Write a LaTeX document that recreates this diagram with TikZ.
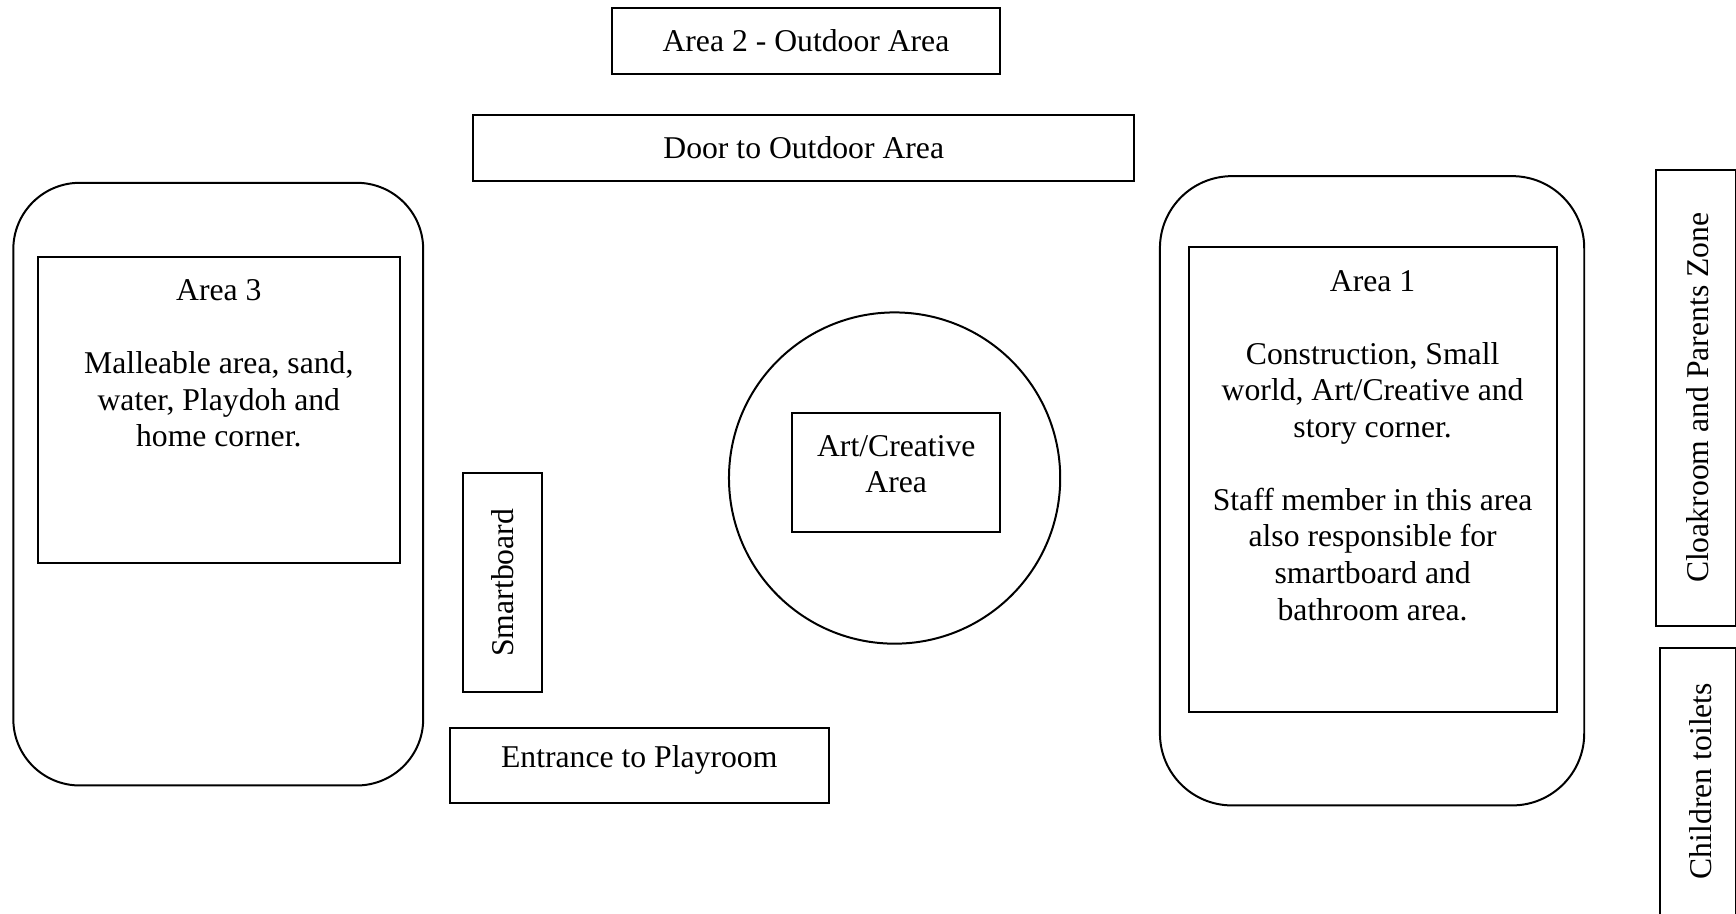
\documentclass[tikz,border=0pt]{standalone}
\usepackage{fontspec}
\setmainfont{Liberation Serif}
\begin{document}
\begin{tikzpicture}[x=0.5pt,y=-0.5pt,
  box/.style={draw,line width=0.9pt,inner sep=0pt},
  lbl/.style={align=center,inner sep=0pt,font=\fontsize{14.3}{16.5}\selectfont}]
\useasboundingbox (0,0) rectangle (1567,825);
\node[box,minimum width=175.5pt,minimum height=30pt] (area2) at (727.5,37) {};
\node[lbl] (area2t) at (area2) {Area 2 - Outdoor Area};
\node[box,minimum width=298.5pt,minimum height=29.5pt] (door) at (725.5,133.5) {};
\node[lbl] (doort) at (door) {Door to Outdoor Area};
\node[box,rounded corners=30pt,minimum width=185pt,minimum height=272pt] (a3o) at (197,437) {};
\node[box,minimum width=163.5pt,minimum height=138pt] (a3i) at (197.5,370) {};
\node[lbl] (a3t) at (197.5,328) {Area 3\\[16.5pt]Malleable area, sand,\\water, Playdoh and\\home corner.};
\node[box,minimum width=35.5pt,minimum height=99pt] (smart) at (453.5,526) {};
\node[lbl,rotate=90] (smartt) at (smart) {Smartboard};
\node[box,minimum width=171pt,minimum height=34pt] (entr) at (577,691) {};
\node[lbl] (entrt) at (577,686) {Entrance to Playroom};
\node[box,circle,minimum size=149.5pt] (circ) at (807.5,431.5) {};
\node[box,minimum width=94pt,minimum height=53.5pt] (art) at (809,426.5) {};
\node[lbl] (artt) at (809,419) {Art/Creative\\Area};
\node[box,rounded corners=32.5pt,minimum width=191.5pt,minimum height=284pt] (a1o) at (1238.5,443) {};
\node[box,minimum width=166pt,minimum height=210pt] (a1i) at (1239,433) {};
\node[lbl] (a1t) at (1239,402) {Area 1\\[16.5pt]Construction, Small\\world, Art/Creative and\\story corner.\\[16.5pt]Staff member in this area\\also responsible for\\smartboard and\\bathroom area.};
\node[box,minimum width=36pt,minimum height=206pt] (cloak) at (1531,359) {};
\node[lbl,rotate=90] (cloakt) at (1532,359) {Cloakroom and Parents Zone};
\node[box,minimum width=34.5pt,minimum height=122.5pt] (toil) at (1532.5,707.5) {};
\node[lbl,rotate=90] (toilt) at (1535,705) {Children toilets};
\end{tikzpicture}
\end{document}
